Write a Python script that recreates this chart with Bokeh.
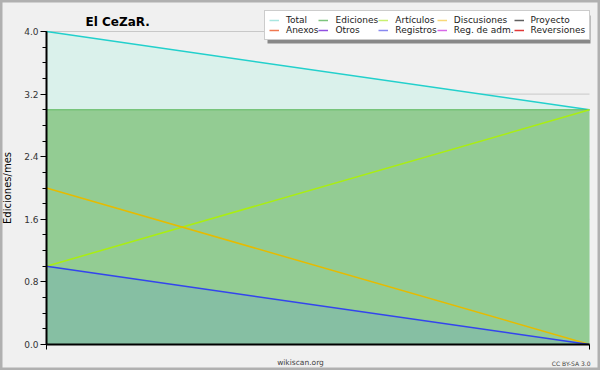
from bokeh.plotting import figure
from bokeh.models import (Range1d, SingleIntervalTicker, FixedTicker, PrintfTickFormatter,
                          Legend, LegendItem, Label, ColumnDataSource, LinearAxis, BoxAnnotation)
from bokeh.embed import file_html
from bokeh.resources import INLINE

# ---- data ----
months = [0, 1]
total = [4.0, 3.0]
ediciones = [3.0, 3.0]
articulos = [1.0, 3.0]
discusiones = [2.0, 0.0]
registros = [1.0, 0.0]
proyecto = [0.0, 0.0]
anexos = [0.0, 0.0]
otros = [0.0, 0.0]
reg_adm = [0.0, 0.0]
reversiones = [0.0, 0.0]

y_ticks = [0.0, 0.8, 1.6, 2.4, 3.2, 4.0]
y_max = 4.0

legend_labels = ["Total", "Ediciones", "Artículos", "Discusiones", "Proyecto",
                 "Anexos", "Otros", "Registros", "Reg. de adm.", "Reversiones"]
legend_cols = ["total", "ediciones", "articulos", "discusiones", "proyecto",
               "anexos", "otros", "registros", "reg_adm", "reversiones"]
legend_colors = ["#a8e6e0", "#7cc47c", "#c8f070", "#f8d878", "#606060",
                 "#f07850", "#9050e0", "#8888f0", "#d868e8", "#e03838"]

FONT = "DejaVu Sans"
BG = "#f0f0f0"

# ---- layout (canvas pixels) ----
W, H = 600, 370
PX_L, PX_R = 46, 589      # plot area left/right
PX_TOP, PX_BOT = 31, 344  # plot area top/bottom
LEG_L, LEG_R, LEG_T, LEG_B = 264, 587, 12, 40  # legend box
SHADOW = 3

xppu = (PX_R - PX_L) / (months[-1] - months[0])
yppu = (PX_BOT - PX_TOP) / y_max
x_range = Range1d(months[0] - PX_L / xppu, months[-1] + (W - PX_R) / xppu)
y_range = Range1d(-(H - PX_BOT) / yppu, PX_BOT / yppu)


def px_x(px):
    return months[0] + (px - PX_L) / xppu


def px_y(py):
    return (PX_BOT - py) / yppu


p = figure(width=W, height=H, output_backend="svg", toolbar_location=None,
           x_range=x_range, y_range=y_range,
           min_border_left=0, min_border_right=0, min_border_top=0, min_border_bottom=0,
           background_fill_color=BG, border_fill_color=BG,
           outline_line_color="#b0b0b0", outline_line_width=4,
           x_axis_location=None, y_axis_location=None)
p.xgrid.visible = False
p.ygrid.visible = False

src = ColumnDataSource(dict(x=months, total=total, ediciones=ediciones,
                            articulos=articulos, discusiones=discusiones, registros=registros,
                            proyecto=proyecto, anexos=anexos, otros=otros,
                            reg_adm=reg_adm, reversiones=reversiones))

# grid lines at the major ticks, across the plot area
gsrc = ColumnDataSource(dict(y=y_ticks, x0=[months[0]] * len(y_ticks), x1=[months[-1]] * len(y_ticks)))
p.segment(x0="x0", x1="x1", y0="y", y1="y", source=gsrc, line_color="#c8c8c8", line_width=1)

# filled areas
p.varea(x="x", y1=0, y2="total", source=src, fill_color="#daf1eb")
p.varea(x="x", y1=0, y2="ediciones", source=src, fill_color="#93cc93")
p.varea(x="x", y1=0, y2="registros", source=src, fill_color="#86bfa3")

# lines
p.line("x", "total", source=src, line_color="#22d0cc", line_width=1.5)
p.line("x", "ediciones", source=src, line_color="#5cb85c", line_width=1.2)
p.line("x", "articulos", source=src, line_color="#aaee11", line_width=1.5)
p.line("x", "discusiones", source=src, line_color="#e6bb00", line_width=1.5)
p.line("x", "registros", source=src, line_color="#3344ee", line_width=1.5)

# axes, fixed inside the canvas
ya = LinearAxis(fixed_location=months[0], bounds=(0, y_max))
ya.ticker = SingleIntervalTicker(interval=0.8, num_minor_ticks=4)
ya.formatter = PrintfTickFormatter(format="%.1f")
ya.major_tick_in = 0
ya.major_tick_out = 6
ya.minor_tick_in = 0
ya.minor_tick_out = 4
ya.axis_line_width = 2
ya.axis_line_color = "black"
ya.major_tick_line_color = "black"
ya.minor_tick_line_color = "black"
ya.major_label_text_font = FONT
ya.major_label_text_font_size = "9px"
ya.major_label_text_color = "#333333"
ya.major_label_standoff = 2
ya.axis_label = "Ediciones/mes"
ya.axis_label_text_font = FONT
ya.axis_label_text_font_size = "10px"
ya.axis_label_text_font_style = "normal"
ya.axis_label_text_color = "black"
ya.axis_label_standoff = 8
p.add_layout(ya, "left")

xa = LinearAxis(fixed_location=0, bounds=(months[0], months[-1]))
xa.ticker = FixedTicker(ticks=months)
xa.major_label_overrides = {m: "" for m in months}
xa.major_label_text_font_size = "1px"
xa.major_tick_in = 0
xa.major_tick_out = 5
xa.minor_tick_line_color = None
xa.axis_line_width = 2
xa.axis_line_color = "black"
xa.major_tick_line_color = "black"
p.add_layout(xa, "below")

# legend swatches (hidden renderers of each series, legend colours)
sw = [p.line("x", c, source=src, line_color=col, line_width=1.5, visible=False)
      for c, col in zip(legend_cols, legend_colors)]

# legend drop shadow
p.add_layout(BoxAnnotation(left=px_x(LEG_L + SHADOW), right=px_x(LEG_R + SHADOW),
                           top=px_y(LEG_T + SHADOW), bottom=px_y(LEG_B + SHADOW),
                           fill_color="#888888", fill_alpha=1, line_color=None))

items = [LegendItem(label=l, renderers=[r]) for l, r in zip(legend_labels, sw)]
legend = Legend(items=items, location=(LEG_L, H - LEG_B),
                orientation="horizontal", ncols=5,
                label_text_font=FONT, label_text_font_size="9px",
                label_text_color="#222222",
                label_height=10, glyph_height=10, glyph_width=10, label_standoff=7,
                spacing=0, padding=4, margin=0,
                inactive_fill_alpha=0,
                border_line_color="#999999",
                background_fill_color="white", background_fill_alpha=1)
p.add_layout(legend)

# title and footer texts
p.add_layout(Label(x=85, y=H - 21, x_units="screen", y_units="screen", text="El CeZaR.",
                   text_font=FONT, text_font_style="bold", text_baseline="alphabetic",
                   text_font_size="12px", text_color="black"))
p.add_layout(Label(x=300, y=H - 362, x_units="screen", y_units="screen", text="wikiscan.org",
                   text_font=FONT, text_font_size="7.5px", text_color="#444444",
                   text_align="center", text_baseline="alphabetic"))
p.add_layout(Label(x=590, y=H - 363, x_units="screen", y_units="screen", text="CC BY-SA 3.0",
                   text_font=FONT, text_font_size="6px", text_color="#444444",
                   text_align="right", text_baseline="alphabetic"))

open("out.html", "w").write(file_html(p, INLINE))
